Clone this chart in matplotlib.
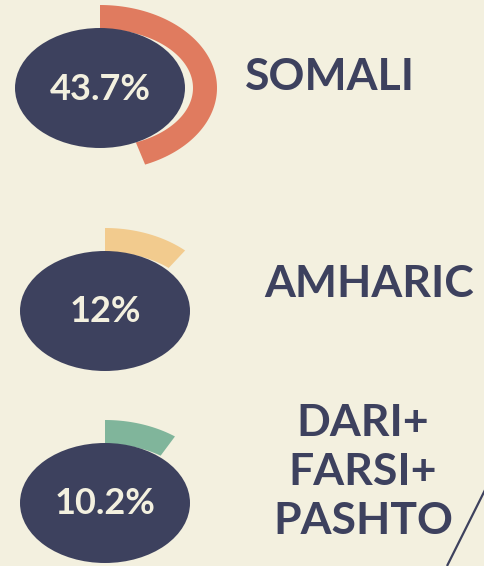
import numpy as np
import matplotlib.pyplot as plt
from matplotlib.patches import Ellipse, Polygon

# data
languages = ['SOMALI', 'AMHARIC', 'DARI+\nFARSI+\nPASHTO']
shares = [43.7, 12.0, 10.2]
share_labels = ['43.7%', '12%', '10.2%']
arc_colors = ['#e07b5f', '#f2cb8e', '#80b59b']

bg = '#f3f0df'
navy = '#3d415e'

# layout (pixel coords)
centers = [(100, 88), (105, 311), (105, 503)]
label_pos = [(330, 77), (369, 284), (363, 472)]

fig = plt.figure(figsize=(4.84, 5.66), dpi=100)
fig.patch.set_facecolor(bg)
ax = fig.add_axes([0, 0, 1, 1])
ax.set_xlim(0, 484)
ax.set_ylim(566, 0)
ax.axis('off')

a_out, b_out = 117, 83
a_in, b_in = 93, 59

for (cx, cy), val, col, txt, lab, (lx, ly) in zip(centers, shares, arc_colors,
                                                   share_labels, languages, label_pos):
    t = np.radians(np.linspace(0, val * 3.6, 100))
    outer = np.column_stack([cx + a_out * np.sin(t), cy - b_out * np.cos(t)])
    inner = np.column_stack([cx + a_in * np.sin(t), cy - b_in * np.cos(t)])[::-1]
    ax.add_patch(Polygon(np.vstack([outer, inner]), closed=True, facecolor=col,
                         edgecolor='none', zorder=1))
    ax.add_patch(Ellipse((cx, cy), 170, 120, facecolor=navy, edgecolor='none', zorder=2))
    ax.text(cx, cy + 1, txt, color=bg, fontsize=26, fontfamily='Lato', fontweight='bold',
            ha='center', va='center', zorder=3)
    ax.text(lx, ly, lab, color=navy, fontsize=32, fontfamily='Lato', fontweight='bold',
            ha='center', va='center', linespacing=1.27)

# decorative slash bottom right
ax.plot([447, 490], [566, 480], color=navy, lw=1.6, solid_capstyle='butt')

fig.savefig('out.png', dpi=100, facecolor=bg)
